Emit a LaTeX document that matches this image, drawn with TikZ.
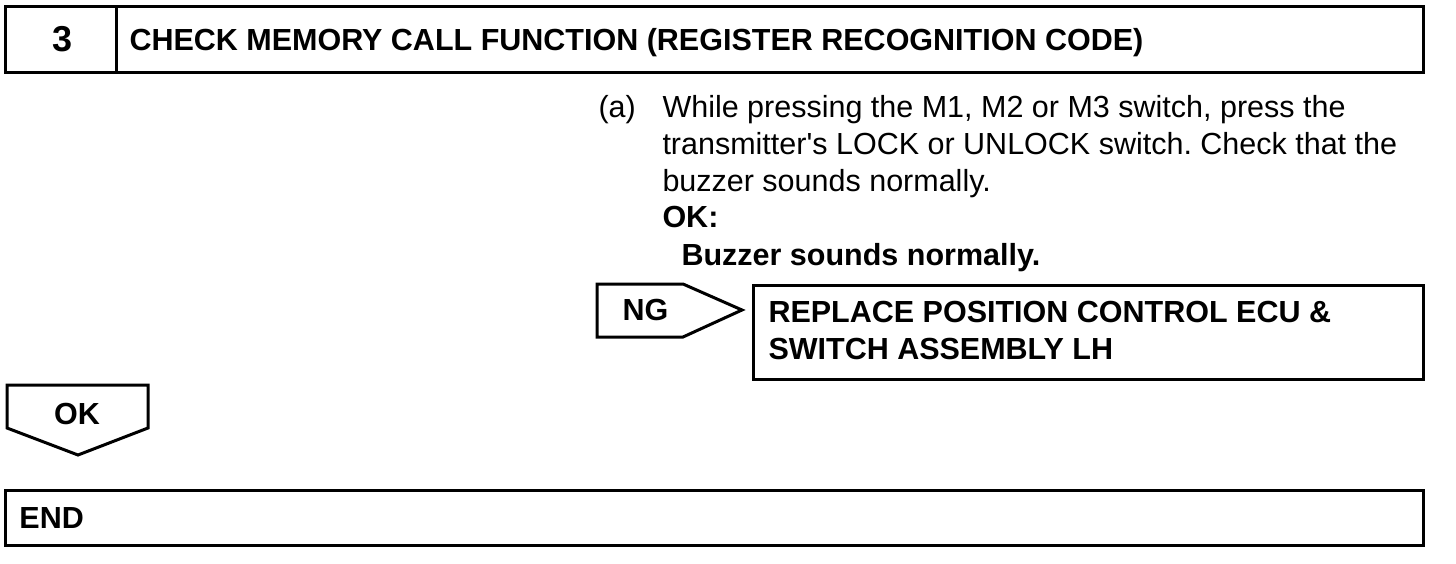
\documentclass[tikz,border=0pt]{standalone}
\usepackage{fontspec}
\setmainfont{Liberation Sans}
\usetikzlibrary{positioning}

\begin{document}
\frenchspacing
\begin{tikzpicture}[x=1pt,y=-1pt,line width=3pt,
 txt/.style={inner sep=0,anchor=base west,font=\fontsize{30.5}{37}\selectfont},
 btxt/.style={inner sep=0,anchor=base west,font=\bfseries\fontsize{30.5}{37}\selectfont}]
\useasboundingbox (0,0) rectangle (1456,564);
\draw (5,7) rectangle (1423,73);
\draw (116,7) -- (116,73);
\node[btxt,anchor=base,font=\bfseries\fontsize{36}{40}\selectfont] (num) at (63,52) {3};
\node[btxt] (title) at (128,51) {CHECK MEMORY CALL FUNCTION (REGISTER RECOGNITION CODE)};
\node[txt] (item) at (597,118) {(a)};
\foreach \t [count=\i] in {{While pressing the M1, M2 or M3 switch, press the},{transmitter\textquotesingle s LOCK or UNLOCK switch. Check that the},{buzzer sounds normally.}}
 \node[txt] (line\i) at (661,118+36.7*\i-36.7) {\t};
\node[btxt] (ok) at (661,228) {OK:};
\node[btxt] (okres) at (680,265) {Buzzer sounds normally.};
\draw (597,284) -- (683,284) -- (742,310) -- (683,337) -- (597,337) -- cycle;
\node[btxt] (ng) at (621,320) {NG};
\draw (753,285) rectangle (1423,379);
\node[btxt] (rep1) at (767,322) {REPLACE POSITION CONTROL ECU \&};
\node[btxt] (rep2) at (767,359) {SWITCH ASSEMBLY LH};
\draw (7,385) -- (148,385) -- (148,428) -- (78,455) -- (7,428) -- cycle;
\node[btxt,anchor=base] (okarrow) at (77,424) {OK};
\draw (5,490) rectangle (1423,545);
\node[btxt] (end) at (18,528) {END};
\end{tikzpicture}
\end{document}
